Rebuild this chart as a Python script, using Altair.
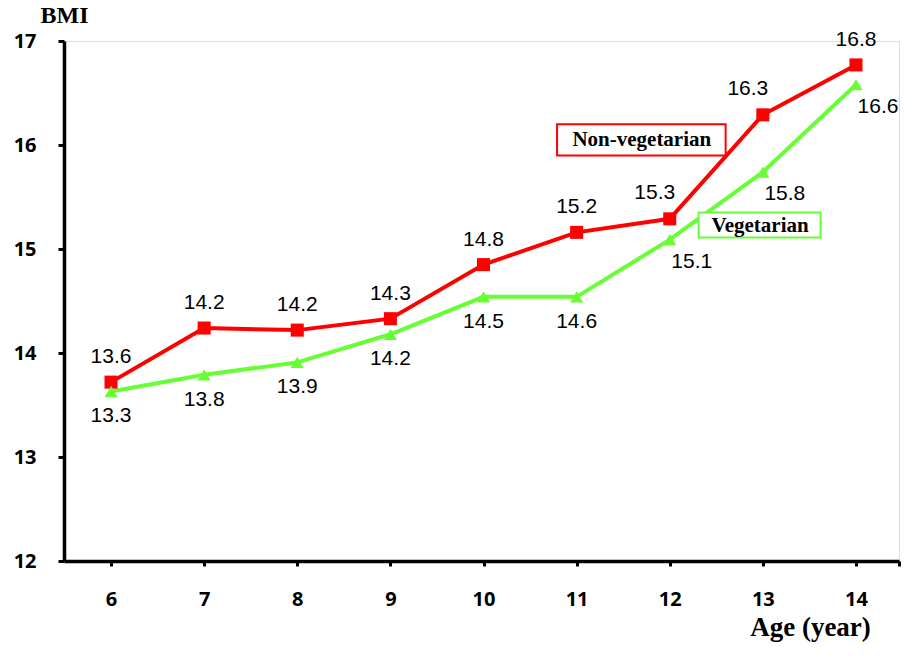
import altair as alt
import pandas as pd

# ---- data ----
ages = [6, 7, 8, 9, 10, 11, 12, 13, 14]
nonveg = [13.72, 14.24, 14.22, 14.33, 14.85, 15.16, 15.29, 16.29, 16.77]
veg = [13.63, 13.79, 13.91, 14.18, 14.54, 14.54, 15.09, 15.74, 16.58]
nonveg_labels = ["13.6", "14.2", "14.2", "14.3", "14.8", "15.2", "15.3", "16.3", "16.8"]
veg_labels = ["13.3", "13.8", "13.9", "14.2", "14.5", "14.6", "15.1", "15.8", "16.6"]
y_ticks = [12, 13, 14, 15, 16, 17]

# annotation boxes (data coordinates)
legend_names = ["Non-vegetarian", "Vegetarian"]
legend_x1 = [10.79, 12.31]
legend_x2 = [12.60, 13.62]
legend_y1 = [16.20, 15.35]
legend_y2 = [15.90, 15.11]
legend_tx = [11.70, 12.97]
legend_ty = [16.05, 15.225]

RED = "#FF0000"
GREEN = "#66FF33"
XMIN, XMAX = 5.495, 14.462

df = pd.DataFrame({
    "age": ages * 2,
    "bmi": nonveg + veg,
    "label": nonveg_labels + veg_labels,
    "group": ["Non-vegetarian"] * len(ages) + ["Vegetarian"] * len(ages),
})
leg = pd.DataFrame({
    "name": legend_names, "x1": legend_x1, "x2": legend_x2,
    "y1": legend_y1, "y2": legend_y2, "tx": legend_tx, "ty": legend_ty,
})

xscale = alt.Scale(domain=[XMIN, XMAX], nice=False, zero=False)
yscale = alt.Scale(domain=[12, 17], nice=False, zero=False)
cscale = alt.Scale(domain=legend_names, range=[RED, GREEN])

xaxis = alt.Axis(
    values=ages + [XMAX],
    labelExpr="datum.value > 14.2 ? '' : '' + round(datum.value)",
    labelOverlap=False,
    title="Age (year)", titleFont="Liberation Serif", titleFontSize=27,
    titleFontWeight="bold", titleColor="black", titleAlign="center",
    titleX=746, titleY=74, titleBaseline="alphabetic",
    labelFont="Open Sans", labelFontWeight="bold", labelFontSize=20,
    labelColor="black", labelPadding=23, tickSize=5, tickWidth=3,
    tickColor="black", domainColor="black", domainWidth=3.5, grid=False,
    labelFlush=False,
)
yaxis = alt.Axis(
    values=y_ticks, format="d", labelOverlap=False, title="BMI", titleAngle=0,
    titleFont="Liberation Serif",
    titleFontSize=24, titleFontWeight="bold", titleColor="black",
    titleX=0, titleY=-26, titleAlign="center", titleBaseline="middle",
    labelFont="Open Sans", labelFontWeight="bold", labelFontSize=20,
    labelColor="black", labelPadding=22, tickSize=6, tickWidth=3,
    tickColor="black", domainColor="black", domainWidth=3.5, grid=False,
)

base = alt.Chart(df)

lines = base.mark_line(strokeWidth=4).encode(
    x=alt.X("age:Q", scale=xscale, axis=xaxis),
    y=alt.Y("bmi:Q", scale=yscale, axis=yaxis),
    color=alt.Color("group:N", scale=cscale, legend=None),
)
squares = base.transform_filter("datum.group == 'Non-vegetarian'").mark_point(
    shape="square", filled=True, size=170, opacity=1, color=RED
).encode(x="age:Q", y="bmi:Q")
triangles = base.transform_filter("datum.group == 'Vegetarian'").mark_point(
    shape="triangle-up", filled=True, size=170, opacity=1, color=GREEN
).encode(x="age:Q", y="bmi:Q")

tstyle = dict(font="Liberation Sans", fontSize=21, color="black", baseline="middle", align="center")
red_lab1 = base.transform_filter("datum.group == 'Non-vegetarian' && (datum.age < 12 || datum.age > 13)").mark_text(
    dy=-25, **tstyle).encode(x="age:Q", y="bmi:Q", text="label:N")
red_lab2 = base.transform_filter("datum.group == 'Non-vegetarian' && datum.age >= 12 && datum.age <= 13").mark_text(
    dy=-26, dx=-15, **tstyle).encode(x="age:Q", y="bmi:Q", text="label:N")
green_lab1 = base.transform_filter("datum.group == 'Vegetarian' && datum.age < 12").mark_text(
    dy=25, **tstyle).encode(x="age:Q", y="bmi:Q", text="label:N")
green_lab2 = base.transform_filter("datum.group == 'Vegetarian' && datum.age >= 12").mark_text(
    dy=22, dx=22, **tstyle).encode(x="age:Q", y="bmi:Q", text="label:N")

lb = alt.Chart(leg)
boxes = lb.mark_rect(fill="white", strokeWidth=2).encode(
    x="x1:Q", x2="x2:Q", y="y1:Q", y2="y2:Q",
    stroke=alt.Color("name:N", scale=cscale, legend=None),
)
box_text = lb.mark_text(font="Liberation Serif", fontSize=21, fontWeight="bold",
                        color="black", baseline="middle", align="center").encode(
    x="tx:Q", y="ty:Q", text="name:N")

chart = alt.layer(
    lines, squares, triangles, red_lab1, red_lab2, green_lab1, green_lab2, boxes, box_text
).properties(
    width=835, height=520,
    autosize=alt.AutoSizeParams(type="none"),
    padding={"left": 64, "top": 41, "right": 5, "bottom": 95},
).configure_view(stroke=None).configure(background="white")

chart.save("out.html", embed_options={"renderer": "svg", "actions": False})
